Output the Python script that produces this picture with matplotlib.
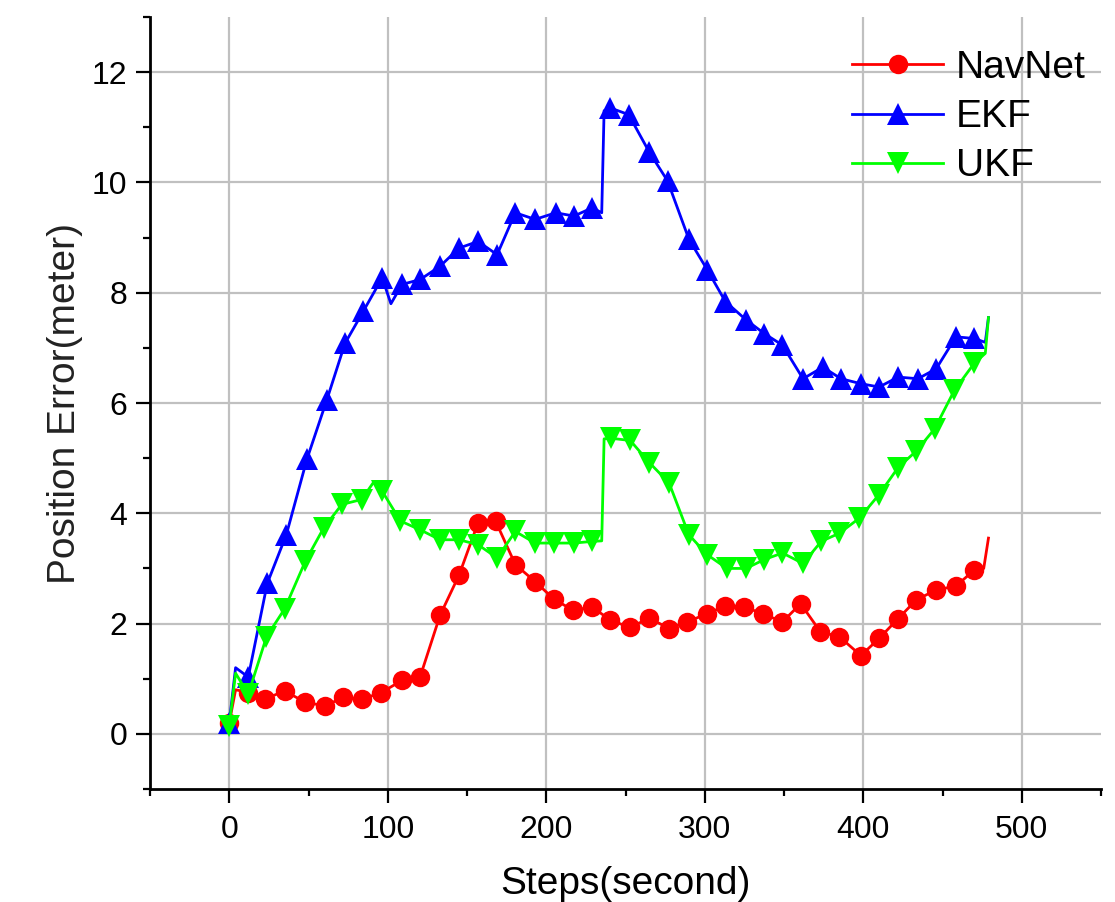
import numpy as np
import matplotlib
matplotlib.use("Agg")
import matplotlib.pyplot as plt
from matplotlib.ticker import MultipleLocator

plt.rcParams['font.family'] = ['Liberation Sans', 'DejaVu Sans']

# marker points
nav_x = [0, 12, 22.5, 35, 48, 60.5, 72, 84, 96, 109, 120.5, 133, 145, 157, 168, 180.5, 193, 205, 217, 229,
         240.5, 253, 265, 277.5, 289, 301.5, 313, 325, 336.5, 349, 360.5, 373, 385, 398.5, 410, 422, 433.5, 446, 458.5, 470]
nav_y = [0.2, 0.75, 0.63, 0.78, 0.57, 0.51, 0.66, 0.63, 0.75, 0.97, 1.04, 2.15, 2.88, 3.83, 3.86, 3.07, 2.76, 2.44, 2.24, 2.30,
         2.06, 1.93, 2.10, 1.91, 2.03, 2.18, 2.32, 2.30, 2.18, 2.03, 2.36, 1.85, 1.76, 1.42, 1.73, 2.09, 2.43, 2.61, 2.68, 2.97]
# line-only vertices (no marker)
nav_extra_x = [4, 476, 479]
nav_extra_y = [0.8, 3.0, 3.55]

ekf_x = [0, 12, 24, 36, 49, 61.5, 73, 84.5, 96.5, 109, 120.5, 133, 145, 157, 169, 180.5, 193, 206, 217.5, 229,
         240.5, 252, 265, 276.5, 290, 301.5, 313, 326, 337.5, 349, 362, 374.5, 386, 398.5, 410, 422, 434.5, 446, 458.5, 470]
ekf_y = [0.2, 1.03, 2.73, 3.61, 4.98, 6.05, 7.08, 7.66, 8.27, 8.15, 8.24, 8.48, 8.81, 8.93, 8.69, 9.45, 9.33, 9.45, 9.39, 9.54,
         11.35, 11.23, 10.55, 10.03, 8.97, 8.42, 7.84, 7.51, 7.26, 7.05, 6.44, 6.65, 6.44, 6.35, 6.29, 6.47, 6.44, 6.62, 7.2, 7.17]
ekf_extra_x = [4, 102, 235, 236.5, 477, 479]
ekf_extra_y = [1.2, 7.8, 9.45, 11.3, 7.1, 7.55]

ukf_x = [0, 12, 23.5, 35, 48, 59.5, 71, 83.5, 96.5, 108, 120.5, 133, 145, 157, 169, 180.5, 193, 205, 217.5, 229,
         241, 253, 265, 277.5, 290, 301.5, 314, 326, 337.5, 349, 362, 373.5, 385, 397.5, 410, 422, 433.5, 445, 457.5, 470]
ukf_y = [0.15, 0.72, 1.76, 2.27, 3.13, 3.73, 4.16, 4.25, 4.40, 3.86, 3.70, 3.52, 3.52, 3.43, 3.19, 3.67, 3.46, 3.46, 3.46, 3.49,
         5.36, 5.32, 4.92, 4.55, 3.61, 3.25, 3.0, 3.0, 3.16, 3.28, 3.09, 3.49, 3.64, 3.91, 4.34, 4.83, 5.13, 5.53, 6.23, 6.72]
ukf_extra_x = [4, 91, 235, 236.5, 477, 479]
ukf_extra_y = [1.1, 4.56, 3.5, 5.35, 6.9, 7.55]


def merge(mx, my, ex, ey):
    x = np.array(mx + ex, dtype=float)
    y = np.array(my + ey, dtype=float)
    order = np.argsort(x, kind='stable')
    x, y = x[order], y[order]
    marks = list(np.where(np.isin(x, mx))[0])
    return x, y, marks


fig = plt.figure(figsize=(11.15, 9.02), dpi=100)
ax = fig.add_axes([150/1115, 1 - 789/902, (1101-150)/1115, (789-17)/902])

series = [
    ('NavNet', nav_x, nav_y, nav_extra_x, nav_extra_y, '#ff0000', 'o', 14),
    ('EKF', ekf_x, ekf_y, ekf_extra_x, ekf_extra_y, '#0000ff', '^', 16.5),
    ('UKF', ukf_x, ukf_y, ukf_extra_x, ukf_extra_y, '#00ff00', 'v', 16.5),
]
for name, mx, my, ex, ey, col, mk, ms in series:
    x, y, marks = merge(mx, my, ex, ey)
    ax.plot(x, y, color=col, lw=2, marker=mk, markersize=ms, markevery=marks,
            markeredgewidth=0, label=name)

ax.set_xlim(-50, 550)
ax.set_ylim(-1, 13)
ax.xaxis.set_major_locator(MultipleLocator(100))
ax.xaxis.set_minor_locator(MultipleLocator(50))
ax.yaxis.set_major_locator(MultipleLocator(2))
ax.yaxis.set_minor_locator(MultipleLocator(1))
ax.grid(True, which='major', color='#c0c0c0', lw=1.6)
ax.set_axisbelow(True)

for s in ['top', 'right']:
    ax.spines[s].set_visible(False)
for s in ['left', 'bottom']:
    ax.spines[s].set_linewidth(2)

ax.tick_params(axis='both', which='major', length=10, width=1.6, labelsize=23)
ax.tick_params(axis='both', which='minor', length=5, width=1.6)
ax.tick_params(axis='x', which='major', pad=9)
ax.tick_params(axis='y', which='major', pad=6.5)

# the reference crops this label at the bottom edge; keep it just inside
ax.set_xlabel('Steps(second)', fontsize=28, labelpad=14.5)
ax.set_ylabel('Position Error(meter)', fontsize=28, labelpad=6, color='#222222')

ax.legend(loc='upper left', bbox_to_anchor=(852/1115, 1 - 50/902), bbox_transform=fig.transFigure,
          frameon=False, fontsize=28, handlelength=2.34, handletextpad=0.33, borderpad=0,
          labelspacing=0.34, borderaxespad=0)

fig.savefig('out.png', dpi=100)
